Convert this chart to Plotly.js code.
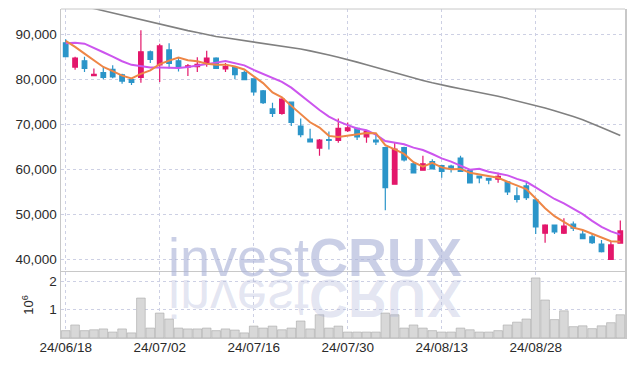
<!DOCTYPE html>
<html>
<head>
<meta charset="utf-8">
<script src="https://cdn.plot.ly/plotly-3.0.1.min.js"></script>
<style>
  html, body { margin: 0; padding: 0; background: #fff; }
  #wrap { position: relative; width: 634px; height: 366px; }
  #chart { position: absolute; left: 0; top: 0; width: 634px; height: 366px; }
  #mirror {
    position: absolute; left: 0; width: 634px; text-align: center;
    top: 284px; height: 30px; line-height: 30px;
    font-family: "Liberation Sans", sans-serif;
    font-size: 54px; color: rgba(170,178,215,0.33);
    transform: scaleY(-1); pointer-events: none; white-space: nowrap;
  }
</style>
</head>
<body>
<div id="wrap">
  <div id="chart"></div>
  <div id="mirror"><span style="position:relative;left:-2px">invest<b>CRUX</b></span></div>
</div>
<script>
const dates = ['24/06/18','24/06/19','24/06/20','24/06/21','24/06/24','24/06/25','24/06/26','24/06/27','24/06/28','24/07/01',
'24/07/02','24/07/03','24/07/04','24/07/05','24/07/08','24/07/09','24/07/10','24/07/11','24/07/12','24/07/15',
'24/07/16','24/07/17','24/07/18','24/07/19','24/07/22','24/07/23','24/07/24','24/07/25','24/07/26','24/07/29',
'24/07/30','24/07/31','24/08/01','24/08/02','24/08/05','24/08/06','24/08/07','24/08/08','24/08/09','24/08/12',
'24/08/13','24/08/14','24/08/16','24/08/19','24/08/20','24/08/21','24/08/22','24/08/23','24/08/26','24/08/27',
'24/08/28','24/08/29','24/08/30','24/09/02','24/09/03','24/09/04','24/09/05','24/09/06','24/09/09','24/09/10'];

const openP  = [88100,82700,84100,80800,81500,82200,81000,79900,80400,86100,
83200,86500,84100,82700,82800,83600,84700,82300,82600,81500,
80100,77400,73400,72400,74900,69600,66700,64700,66600,66400,
68600,69100,67200,66500,64800,56700,64800,61200,59800,61700,
60800,60700,62500,59700,58500,58000,57800,57200,54100,56300,
53200,45800,47600,45800,47800,45600,45000,43400,40000,43600];
const highP  = [88900,85000,85000,82400,82900,83100,81200,80300,90900,86400,
87900,88000,84900,83400,84900,86300,84900,83600,82700,81900,
80200,77600,74800,75800,75000,71300,69000,66700,68400,71300,
70400,69300,68700,67800,65000,66000,65000,61700,63000,62200,
61000,61000,63000,59900,58600,58100,59200,57300,56000,57000,
53400,47800,47700,49100,48400,46400,45600,44300,43900,48600];
const lowP   = [84900,82100,81600,80700,80000,80200,79000,78700,79200,83600,
79400,82400,81700,80700,81600,82800,82300,81600,80000,79800,
76400,74500,71600,72100,69600,67100,66000,63000,64400,65900,
68300,66500,65900,65400,50900,56600,61700,59100,59800,60000,
58100,59300,59400,56900,56900,56700,57000,54300,52600,53200,
45600,43700,45600,45600,46300,44500,43400,41500,40000,43500];
const closeP = [85000,84700,82400,81100,80400,80500,79600,79300,86100,84400,
87400,83500,82800,83000,83300,84700,82400,82800,81000,79900,
77200,74800,72400,75600,70400,67700,66100,66500,66400,69100,
69200,67200,68400,66100,55900,64500,62100,59200,61200,60100,
59500,60100,59500,57000,58100,57600,58400,55000,53300,53700,
47200,47600,46100,47400,46900,44600,43700,41700,43200,46300];

const ma5  = [88500,87200,85700,84200,82720,81820,80800,80180,81180,81980,
83360,84140,84840,84220,84000,83460,83240,83240,82840,82160,
80660,79140,77060,75980,74080,72180,70440,69260,67420,67160,
67460,67680,68060,68000,65360,64420,63400,61560,60580,61420,
60420,60020,60080,59240,58840,58460,58120,57220,56480,55600,
53520,51360,49580,48400,47040,46520,45740,44860,44020,43900];
const ma10 = [88000,88100,87900,87000,86000,85000,84000,83200,82900,82600,
82590,82470,82510,82700,82990,83410,83690,84040,83530,83080,
82060,81190,80150,79410,78120,76420,74790,73160,71700,70620,
69820,69060,68660,67710,66260,65940,65540,64810,64290,63390,
62420,61710,60820,59910,60130,59440,59070,58650,57860,57220,
55990,54740,53400,52440,51320,50020,48550,47220,46210,45470];
const maLong = [97000,96500,96100,95700,95200,94700,94200,93700,93200,92700,
92200,91800,91300,90800,90400,89900,89500,89200,88900,88600,
88300,88000,87700,87400,87000,86700,86300,85900,85400,84900,
84400,83800,83200,82600,82000,81400,80800,80200,79700,79200,
78700,78300,77900,77500,77100,76600,76200,75700,75200,74700,
74200,73600,73000,72400,71700,71000,70200,69300,68400,67500];

const volume = [260000,460000,260000,290000,320000,210000,320000,180000,1410000,350000,
880000,670000,350000,320000,320000,350000,260000,320000,280000,180000,
420000,350000,420000,290000,350000,600000,320000,820000,350000,420000,
210000,210000,210000,210000,880000,820000,350000,460000,350000,260000,
210000,210000,350000,290000,210000,210000,260000,460000,560000,670000,
2120000,1340000,650000,960000,400000,430000,330000,430000,540000,820000];

const tickDates = ['24/06/18','24/07/02','24/07/16','24/07/30','24/08/13','24/08/28'];
const priceTicks = [40000,50000,60000,70000,80000,90000];
const volTicks = [1000000,2000000];
const volTickText = ['1','2'];

const FAM = '"Liberation Sans", sans-serif';
const F = (size, extra) => Object.assign({ family: FAM, size: size, color: '#2a2a2a' }, extra || {});
const GRID = '#cdd0e4';
const UP = '#e3176b';
const DOWN = '#2b95c9';

const traces = [
  {
    type: 'bar', x: dates, y: volume, xaxis: 'x', yaxis: 'y2',
    marker: { color: '#d8d8d8', line: { color: '#a8a8a8', width: 0.6 } },
    hoverinfo: 'skip', showlegend: false
  },
  {
    type: 'scatter', mode: 'lines', x: dates, y: maLong, xaxis: 'x', yaxis: 'y',
    line: { color: '#808080', width: 1.6 }, showlegend: false, hoverinfo: 'skip'
  },
  {
    type: 'candlestick', x: dates, open: openP, high: highP, low: lowP, close: closeP,
    xaxis: 'x', yaxis: 'y',
    increasing: { line: { color: UP, width: 1.2 }, fillcolor: UP },
    decreasing: { line: { color: DOWN, width: 1.2 }, fillcolor: DOWN },
    whiskerwidth: 0, showlegend: false
  },
  {
    type: 'scatter', mode: 'lines', x: dates, y: ma10, xaxis: 'x', yaxis: 'y',
    line: { color: '#cc55ee', width: 2 }, showlegend: false, hoverinfo: 'skip'
  },
  {
    type: 'scatter', mode: 'lines', x: dates, y: ma5, xaxis: 'x', yaxis: 'y',
    line: { color: '#ee8646', width: 2 }, showlegend: false, hoverinfo: 'skip'
  }
];

const layout = {
  width: 634, height: 366,
  margin: { l: 61, r: 9, t: 9, b: 28 },
  paper_bgcolor: '#ffffff', plot_bgcolor: '#ffffff',
  font: F(13),
  showlegend: false,
  bargap: 0.08,
  boxgap: 0.3,
  xaxis: {
    type: 'category', anchor: 'y2', range: [-0.5, 59.5],
    tickmode: 'array', tickvals: tickDates, ticktext: tickDates,
    showgrid: true, gridcolor: GRID, griddash: 'dot', gridwidth: 1,
    showline: true, linecolor: '#c8c8c8', linewidth: 1, mirror: true,
    ticks: '', zeroline: false, ticklabelstandoff: -3,
    rangeslider: { visible: false },
    tickfont: F(13.5)
  },
  yaxis: {
    domain: [0.2036, 1], anchor: 'x', range: [37400, 95600],
    tickmode: 'array', tickvals: priceTicks, tickformat: ',d',
    showgrid: true, gridcolor: GRID, griddash: 'dot', gridwidth: 1,
    showline: true, linecolor: '#c8c8c8', linewidth: 1.5, mirror: true,
    ticks: '', zeroline: false,
    tickfont: F(13.5)
  },
  yaxis2: {
    domain: [0, 0.2006], anchor: 'x', range: [0, 2330000],
    tickmode: 'array', tickvals: volTicks, ticktext: volTickText,
    showgrid: true, gridcolor: GRID, griddash: 'dot', gridwidth: 1,
    showline: true, linecolor: '#c8c8c8', linewidth: 1.5, mirror: true,
    ticks: '', zeroline: false,
    title: { text: '10<sup>6</sup>', font: F(13), standoff: 12 },
    tickfont: F(13.5)
  },
  shapes: [
    { type: 'line', xref: 'paper', yref: 'paper', x0: 0, x1: 1, y0: 1, y1: 1,
      line: { color: '#c8c8c8', width: 1 } }
  ],
  annotations: [
    { xref: 'paper', yref: 'paper', x: 0.45, y: 0.246, xanchor: 'center', yanchor: 'middle',
      text: 'invest<b>CRUX</b>', showarrow: false,
      font: F(54, { color: 'rgba(170,178,215,0.62)' }) }
  ]
};

Plotly.newPlot('chart', traces, layout, { displayModeBar: false, staticPlot: true });
</script>
</body>
</html>
